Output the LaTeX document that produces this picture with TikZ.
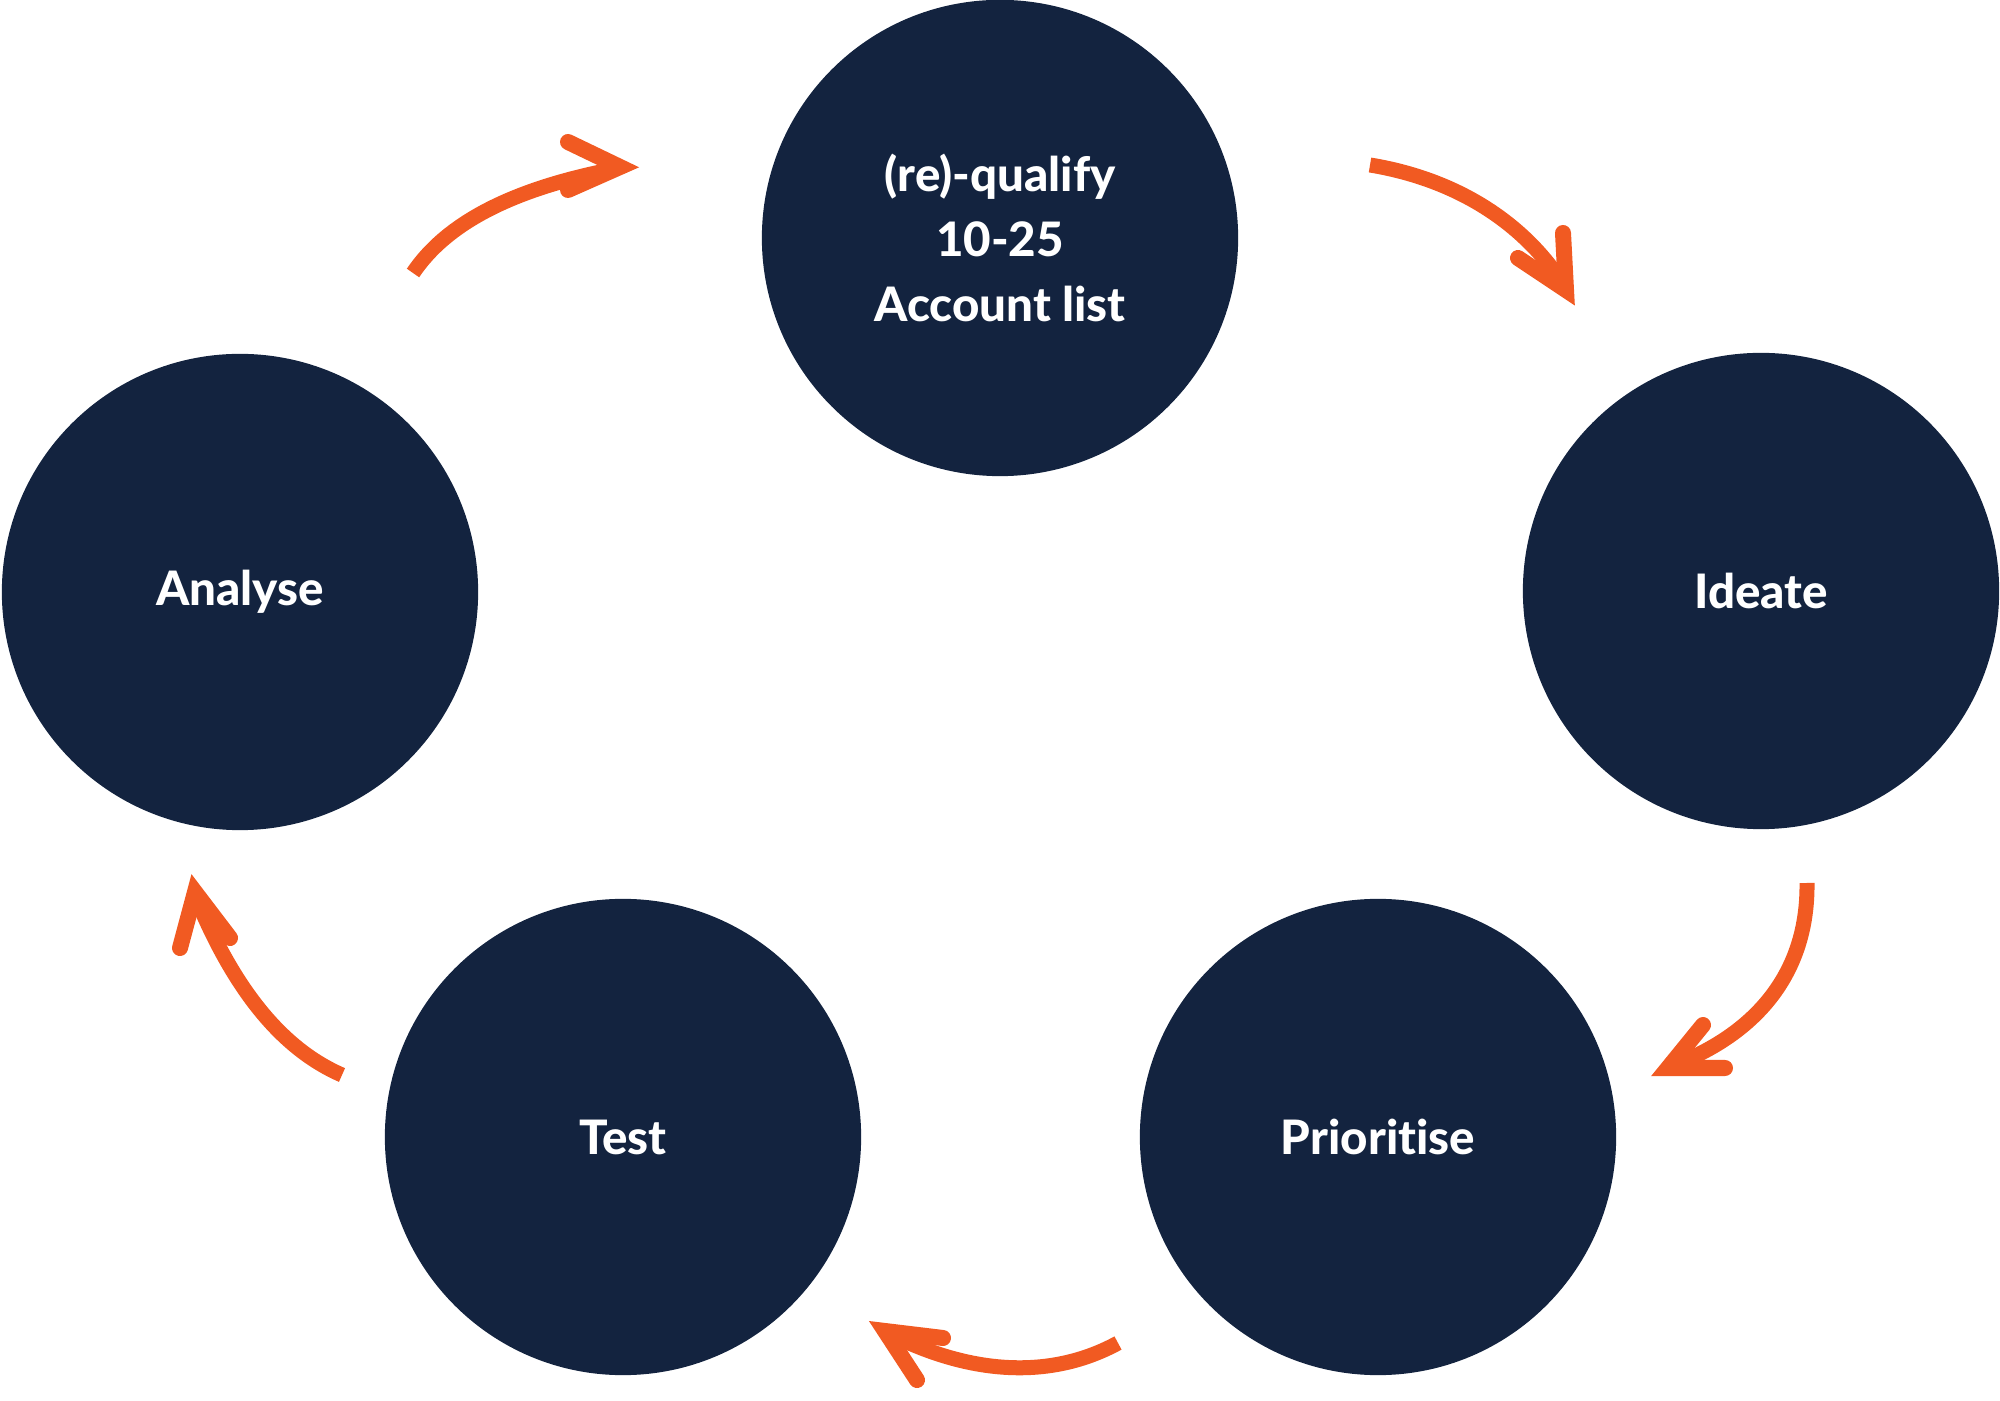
\documentclass[tikz,border=0pt]{standalone}
\usepackage{fontspec}
\newfontfamily\stagefont{Lato Heavy}[Ligatures=NoCommon]
\definecolor{navy}{HTML}{13233F}
\definecolor{flame}{HTML}{F15A22}
\begin{document}
\begin{tikzpicture}[x=0.01cm,y=-0.01cm,
  stage/.style={circle,fill=navy,minimum size=4.76cm,inner sep=0pt,text=white,
    font=\stagefont\fontsize{13.5}{18.5}\selectfont,align=center},
  shaft/.style={draw=flame,line width=0.15cm,line cap=butt},
  head/.style={draw=flame,line width=0.16cm,line cap=round,line join=miter,miter limit=10}]
\useasboundingbox (0,0) rectangle (2000,1401);
\node[stage] (q) at (1000,238) {(re)-qualify\\10-25\\Account list};
\node[stage] (a) at (240,592) {Analyse};
\node[stage] (i) at (1761,591) {Ideate};
\node[stage] (t) at (623,1137) {Test};
\node[stage] (p) at (1378,1137) {Prioritise};
% arrow 1: Analyse -> qualify
\coordinate (s1) at (413,273); \coordinate (e1) at (610,170); \coordinate (t1) at (620,167);
\coordinate (u1) at (568,142); \coordinate (v1) at (568,190);
\draw[shaft] (s1) .. controls (446,224) and (510,190) .. (e1);
\draw[head] (u1) -- (t1) -- (v1);
% arrow 2: qualify -> Ideate
\coordinate (s2) at (1370,165); \coordinate (e2) at (1561,281); \coordinate (t2) at (1566,290);
\coordinate (u2) at (1563,233); \coordinate (v2) at (1518,258);
\draw[shaft] (s2) .. controls (1455,179) and (1521,221) .. (e2);
\draw[head] (u2) -- (t2) -- (v2);
% arrow 3: Ideate -> Prioritise
\coordinate (s3) at (1807,883); \coordinate (e3) at (1677,1064); \coordinate (t3) at (1668,1068);
\coordinate (u3) at (1703,1025); \coordinate (v3) at (1725,1068);
\draw[shaft] (s3) .. controls (1808,968) and (1762,1030) .. (e3);
\draw[head] (u3) -- (t3) -- (v3);
% arrow 4: Prioritise -> Test
\coordinate (s4) at (1118,1343); \coordinate (e4) at (894,1336); \coordinate (t4) at (885,1331);
\coordinate (u4) at (943,1338); \coordinate (v4) at (917,1380);
\draw[shaft] (s4) .. controls (1052,1379) and (974,1375) .. (e4);
\draw[head] (u4) -- (t4) -- (v4);
% arrow 5: Test -> Analyse
\coordinate (s5) at (342,1075); \coordinate (e5) at (198,902); \coordinate (t5) at (195,892);
\coordinate (u5) at (180,948); \coordinate (v5) at (230,938);
\draw[shaft] (s5) .. controls (282,1049) and (235,990) .. (e5);
\draw[head] (u5) -- (t5) -- (v5);
\end{tikzpicture}
\end{document}
